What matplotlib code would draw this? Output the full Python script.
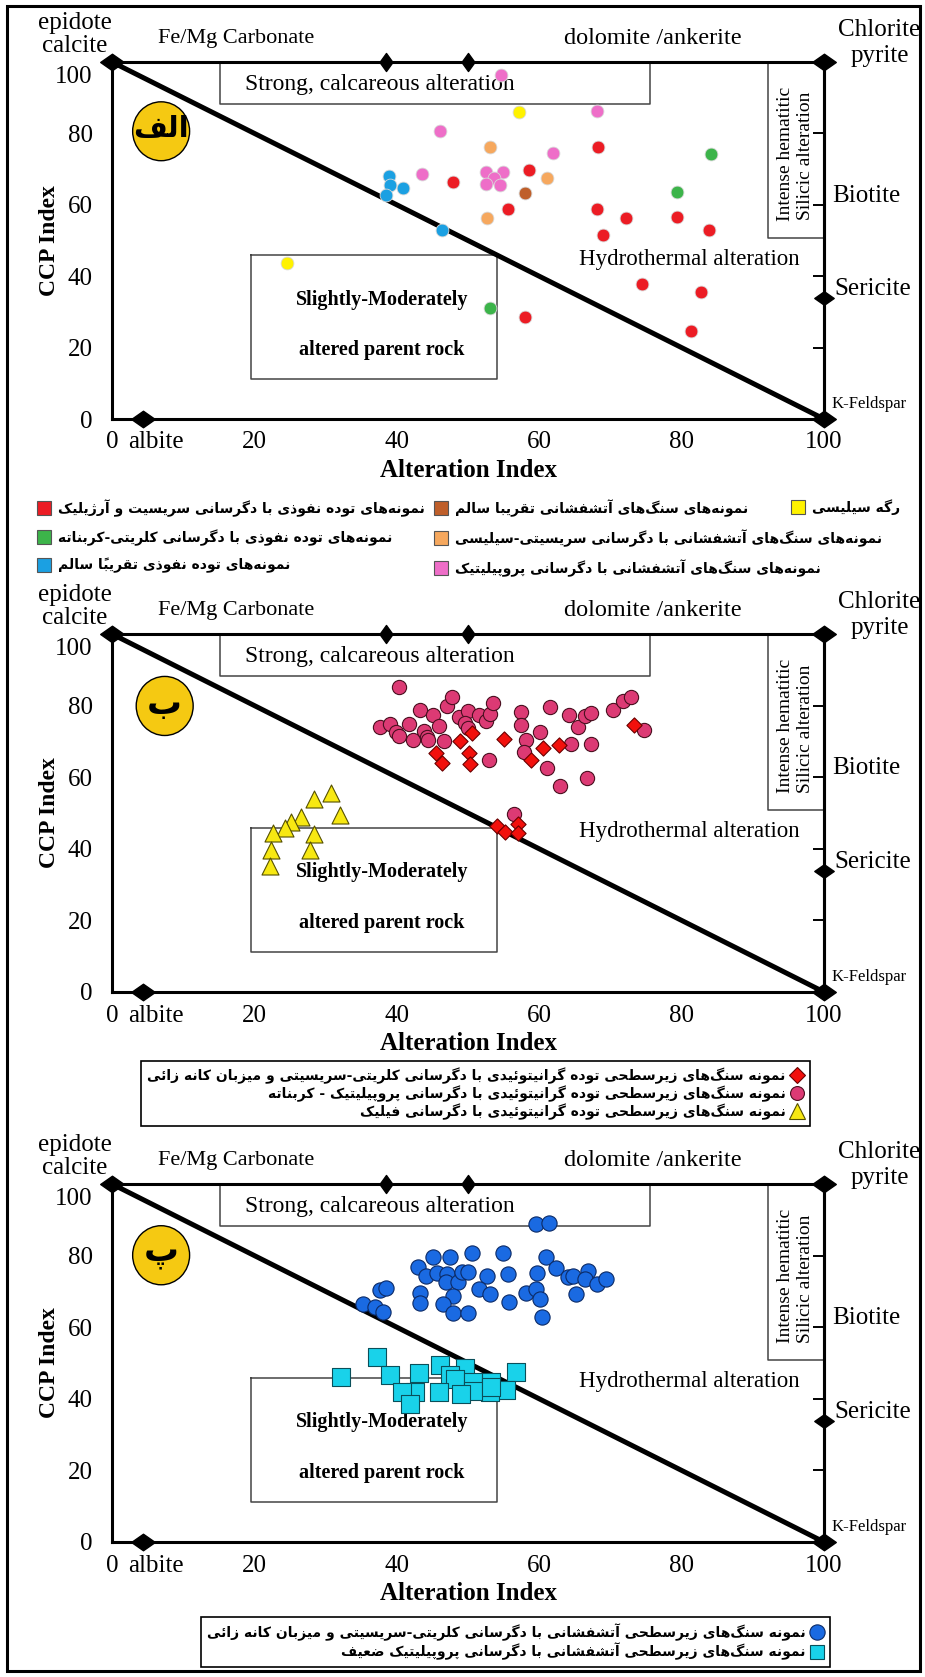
import matplotlib
matplotlib.use("Agg")
import matplotlib.pyplot as plt
import matplotlib.transforms as mtrans
from matplotlib.patches import Ellipse, Rectangle
from matplotlib.lines import Line2D
from matplotlib.path import Path
from matplotlib.font_manager import FontProperties

# ---------------- data ----------------
# Panel 1 (الف)
P1_RED_X = [68.3, 47.9, 58.5, 55.6, 68.1, 72.2, 79.3, 83.8, 69.0, 74.5, 82.7, 58.0, 81.3]
P1_RED_Y = [76.3, 66.4, 69.8, 58.9, 58.9, 56.4, 56.6, 53.0, 51.6, 37.8, 35.7, 28.5, 24.7]
P1_GREEN_X = [84.1, 79.4, 53.1]
P1_GREEN_Y = [74.3, 63.5, 31.1]
P1_BLUE_X = [38.9, 39.0, 40.9, 38.5, 46.3]
P1_BLUE_Y = [68.1, 65.5, 64.8, 62.8, 53.0]
P1_BROWN_X = [58.0]
P1_BROWN_Y = [63.3]
P1_ORANGE_X = [53.1, 61.1, 52.6]
P1_ORANGE_Y = [76.1, 67.5, 56.3]
P1_PINK_X = [54.7, 68.1, 46.0, 62.0, 43.6, 52.5, 54.9, 53.6, 52.5, 54.5]
P1_PINK_Y = [96.4, 86.2, 80.6, 74.5, 68.5, 69.1, 69.3, 67.5, 65.9, 65.5]
P1_YELLOW_X = [57.2, 24.6]
P1_YELLOW_Y = [85.9, 43.7]

# Panel 2 (ب)
P2_CIRC_X = [40.3, 37.6, 39.0, 39.9, 40.3, 41.7, 42.3, 43.2, 43.8, 44.2, 44.4, 45.1, 45.9, 46.6, 47.1,
             47.8, 48.8, 50.0, 49.6, 50.0, 51.5, 52.5, 53.1, 53.5, 52.9, 57.4, 57.4, 58.1, 57.8, 60.1,
             61.5, 61.1, 64.2, 64.4, 65.4, 66.5, 67.3, 67.3, 62.9, 66.7, 70.3, 71.8, 72.9, 74.7, 56.4]
P2_CIRC_Y = [85.2, 74.1, 74.8, 72.5, 71.5, 74.8, 70.3, 78.7, 72.8, 71.1, 70.3, 77.5, 74.4, 70.0, 79.9,
             82.5, 76.9, 78.4, 75.1, 73.8, 77.4, 75.6, 77.7, 80.6, 64.9, 78.2, 74.6, 70.3, 66.9, 72.6,
             79.7, 62.5, 77.4, 69.3, 74.1, 77.2, 77.9, 69.3, 57.5, 59.7, 78.8, 81.4, 82.5, 73.1, 49.7]
P2_DIAM_X = [45.5, 46.4, 48.9, 50.6, 50.2, 50.3, 55.1, 58.8, 60.5, 62.8, 73.3, 54.1, 55.2, 57.0, 57.0]
P2_DIAM_Y = [66.8, 64.1, 70.1, 72.3, 66.8, 63.6, 70.8, 64.9, 68.1, 69.1, 74.5, 46.5, 44.7, 46.9, 44.4]
P2_TRI_X = [30.8, 28.4, 32.0, 26.5, 25.1, 24.3, 22.6, 28.4, 22.4, 27.8, 22.2]
P2_TRI_Y = [55.5, 53.8, 49.4, 48.8, 47.6, 45.9, 44.5, 44.0, 39.6, 39.7, 35.1]

# Panel 3 (پ)
P3_CIRC_X = [59.6, 61.4, 54.9, 50.6, 45.1, 47.5, 60.9, 43.0, 44.1, 45.6, 47.1, 46.9, 48.6, 49.2, 50.0,
             52.6, 55.6, 59.7, 62.4, 64.0, 64.8, 66.9, 66.5, 68.1, 69.4, 51.5, 53.1, 58.1, 59.5, 60.1,
             55.8, 65.2, 43.2, 43.2, 47.9, 46.5, 47.9, 50.0, 60.4, 37.6, 38.5, 35.2, 37.0, 38.0]
P3_CIRC_Y = [88.7, 89.2, 80.6, 80.6, 79.6, 79.7, 79.5, 76.7, 74.3, 75.2, 74.8, 72.6, 72.5, 75.5, 75.5,
             74.3, 74.8, 75.2, 76.4, 74.1, 74.3, 75.8, 73.6, 72.2, 73.5, 70.8, 69.3, 69.6, 70.8, 67.8,
             67.0, 69.3, 69.6, 66.8, 68.7, 66.5, 64.0, 63.9, 62.8, 70.3, 71.0, 66.4, 65.7, 64.3]
P3_SQ_X = [37.2, 32.2, 39.1, 43.1, 46.0, 49.6, 47.5, 48.2, 50.7, 53.3, 56.7, 55.3, 53.1, 50.7, 49.0,
           45.9, 42.6, 40.8, 41.8, 53.3]
P3_SQ_Y = [51.7, 46.1, 46.6, 47.1, 49.4, 48.6, 46.6, 45.4, 44.8, 44.8, 47.4, 42.5, 41.8, 42.3, 41.3,
           41.8, 41.8, 41.8, 38.5, 43.2]

# ticks
TICK_POS = [0, 20, 40, 60, 80, 100]
TICK_LABELS = ["0", "20", "40", "60", "80", "100"]
MINOR_POS = [20, 40, 60, 80]

# legend texts (Persian)
L1_RED = "نمونه‌های توده نفوذی با دگرسانی سریسیت و آرژیلیک"
L1_GREEN = "نمونه‌های توده نفوذی با دگرسانی کلریتی-کربناته"
L1_BLUE = "نمونه‌های توده نفوذی تقریباً سالم"
L1_BROWN = "نمونه‌های سنگ‌های آتشفشانی تقریبا سالم"
L1_ORANGE = "نمونه‌های سنگ‌های آتشفشانی با دگرسانی سریسیتی-سیلیسی"
L1_PINK = "نمونه‌های سنگ‌های آتشفشانی با دگرسانی پروپیلیتیک"
L1_YELLOW = "رگه سیلیسی"
L2_DIAM = "نمونه سنگ‌های زیرسطحی توده گرانیتوئیدی با دگرسانی کلریتی-سریسیتی و میزبان کانه زائی"
L2_CIRC = "نمونه سنگ‌های زیرسطحی توده گرانیتوئیدی با دگرسانی پروپیلیتیک - کربناته"
L2_TRI = "نمونه سنگ‌های زیرسطحی توده گرانیتوئیدی با دگرسانی فیلیک"
L3_CIRC = "نمونه سنگ‌های زیرسطحی آتشفشانی با دگرسانی کلریتی-سریسیتی و میزبان کانه زائی"
L3_SQ = "نمونه سنگ‌های زیرسطحی آتشفشانی با دگرسانی پروپیلیتیک ضعیف"
PANEL_LABELS = ["الف", "ب", "پ"]

# ---------------- Persian shaping (matplotlib has no complex text layout) ----------------
FORMS = {
    'ء': ('\uFE80', None, None, None),
    'آ': ('\uFE81', '\uFE82', None, None),
    'أ': ('\uFE83', '\uFE84', None, None),
    'ؤ': ('\uFE85', '\uFE86', None, None),
    'إ': ('\uFE87', '\uFE88', None, None),
    'ئ': ('\uFE89', '\uFE8A', '\uFE8B', '\uFE8C'),
    'ا': ('\uFE8D', '\uFE8E', None, None),
    'ب': ('\uFE8F', '\uFE90', '\uFE91', '\uFE92'),
    'ة': ('\uFE93', '\uFE94', None, None),
    'ت': ('\uFE95', '\uFE96', '\uFE97', '\uFE98'),
    'ث': ('\uFE99', '\uFE9A', '\uFE9B', '\uFE9C'),
    'ج': ('\uFE9D', '\uFE9E', '\uFE9F', '\uFEA0'),
    'ح': ('\uFEA1', '\uFEA2', '\uFEA3', '\uFEA4'),
    'خ': ('\uFEA5', '\uFEA6', '\uFEA7', '\uFEA8'),
    'د': ('\uFEA9', '\uFEAA', None, None),
    'ذ': ('\uFEAB', '\uFEAC', None, None),
    'ر': ('\uFEAD', '\uFEAE', None, None),
    'ز': ('\uFEAF', '\uFEB0', None, None),
    'س': ('\uFEB1', '\uFEB2', '\uFEB3', '\uFEB4'),
    'ش': ('\uFEB5', '\uFEB6', '\uFEB7', '\uFEB8'),
    'ص': ('\uFEB9', '\uFEBA', '\uFEBB', '\uFEBC'),
    'ض': ('\uFEBD', '\uFEBE', '\uFEBF', '\uFEC0'),
    'ط': ('\uFEC1', '\uFEC2', '\uFEC3', '\uFEC4'),
    'ظ': ('\uFEC5', '\uFEC6', '\uFEC7', '\uFEC8'),
    'ع': ('\uFEC9', '\uFECA', '\uFECB', '\uFECC'),
    'غ': ('\uFECD', '\uFECE', '\uFECF', '\uFED0'),
    'ف': ('\uFED1', '\uFED2', '\uFED3', '\uFED4'),
    'ق': ('\uFED5', '\uFED6', '\uFED7', '\uFED8'),
    'ك': ('\uFED9', '\uFEDA', '\uFEDB', '\uFEDC'),
    'ل': ('\uFEDD', '\uFEDE', '\uFEDF', '\uFEE0'),
    'م': ('\uFEE1', '\uFEE2', '\uFEE3', '\uFEE4'),
    'ن': ('\uFEE5', '\uFEE6', '\uFEE7', '\uFEE8'),
    'ه': ('\uFEE9', '\uFEEA', '\uFEEB', '\uFEEC'),
    'و': ('\uFEED', '\uFEEE', None, None),
    'ى': ('\uFEEF', '\uFEF0', None, None),
    'ي': ('\uFEF1', '\uFEF2', '\uFEF3', '\uFEF4'),
    'پ': ('\uFB56', '\uFB57', '\uFB58', '\uFB59'),
    'چ': ('\uFB7A', '\uFB7B', '\uFB7C', '\uFB7D'),
    'ژ': ('\uFB8A', '\uFB8B', None, None),
    'ک': ('\uFB8E', '\uFB8F', '\uFB90', '\uFB91'),
    'گ': ('\uFB92', '\uFB93', '\uFB94', '\uFB95'),
    'ی': ('\uFBFC', '\uFBFD', '\uFBFE', '\uFBFF'),
}
MARKS = set('\u064B\u064C\u064D\u064E\u064F\u0650\u0651\u0652\u0654\u0670')
LAM_ALEF = {'ا': ('\uFEFB', '\uFEFC'), 'آ': ('\uFEF5', '\uFEF6'),
            'أ': ('\uFEF7', '\uFEF8'), 'إ': ('\uFEF9', '\uFEFA')}


def fa(text):
    ch = list(text)
    n = len(ch)

    def prev_letter(i):
        j = i - 1
        while j >= 0 and ch[j] in MARKS:
            j -= 1
        return ch[j] if j >= 0 else None

    def next_letter(i):
        j = i + 1
        while j < n and ch[j] in MARKS:
            j += 1
        return (ch[j], j) if j < n else (None, None)

    out = []
    skip = set()
    for i, c in enumerate(ch):
        if i in skip:
            continue
        if c in MARKS:
            out.append(c)
            continue
        if c == '\u200c':
            continue
        if c not in FORMS:
            out.append(c)
            continue
        p = prev_letter(i)
        join_prev = p is not None and p in FORMS and FORMS[p][2] is not None and FORMS[c][1] is not None
        nx, nj = next_letter(i)
        if c == 'ل' and nx in LAM_ALEF:
            out.append(LAM_ALEF[nx][1 if join_prev else 0])
            skip.add(nj)
            continue
        join_next = FORMS[c][2] is not None and nx is not None and nx in FORMS and FORMS[nx][1] is not None
        iso, fin, ini, med = FORMS[c]
        if join_prev and join_next:
            out.append(med)
        elif join_prev:
            out.append(fin)
        elif join_next:
            out.append(ini)
        else:
            out.append(iso)
    clusters = []
    for c in out:
        if c in MARKS and clusters:
            clusters[-1] += c
        else:
            clusters.append(c)
    return ''.join(reversed(clusters))


# ---------------- figure ----------------
W, H = 925, 1677
fig = plt.figure(figsize=(W / 100, H / 100), dpi=100)
fig.patch.set_facecolor('white')

SERIF = 'Liberation Serif'
FA_FONT = 'DejaVu Sans'
LEFT, RIGHT = 112, 824

WIDE_D = Path([(-1, 0), (0, 0.7), (1, 0), (0, -0.7), (-1, 0)],
              [Path.MOVETO, Path.LINETO, Path.LINETO, Path.LINETO, Path.CLOSEPOLY])
TALL_D = Path([(0, 1), (0.72, 0), (0, -1), (-0.72, 0), (0, 1)],
              [Path.MOVETO, Path.LINETO, Path.LINETO, Path.LINETO, Path.CLOSEPOLY])


def add_panel(top, bottom):
    return fig.add_axes([LEFT / W, 1 - bottom / H, (RIGHT - LEFT) / W, (bottom - top) / H])


def draw_base(ax, label, lab_xy):
    ax.set_xlim(0, 100)
    ax.set_ylim(0, 100)
    for s in ax.spines.values():
        s.set_linewidth(2.2)
    ax.set_xticks(TICK_POS)
    ax.set_xticklabels(TICK_LABELS, fontfamily=SERIF, fontsize=18)
    ax.set_yticks(TICK_POS)
    ax.set_yticklabels(TICK_LABELS, fontfamily=SERIF, fontsize=18)
    ax.tick_params(axis='x', which='major', length=0, pad=9)
    ax.tick_params(axis='y', which='major', length=0, pad=14)
    ax.set_xticks(MINOR_POS, minor=True)
    ax.set_yticks(MINOR_POS, minor=True)
    ax.tick_params(axis='x', which='minor', direction='in', top=True, bottom=True, length=8, width=1.4)
    ax.tick_params(axis='y', which='minor', direction='out', left=True, right=False, length=7, width=1.4)
    sec = ax.secondary_yaxis('right')
    sec.set_yticks(MINOR_POS)
    sec.tick_params(direction='in', length=8, width=1.4, labelright=False)
    sec.spines['right'].set_linewidth(2.2)
    for lbl in ax.get_yticklabels():
        if lbl.get_text() == '100':
            lbl.set_transform(lbl.get_transform() +
                              mtrans.ScaledTranslation(0, -9 / 72, fig.dpi_scale_trans))

    ax.set_xlabel('Alteration Index', fontfamily=SERIF, fontweight='bold', fontsize=18, labelpad=4)
    ax.set_ylabel('CCP Index', fontfamily=SERIF, fontweight='bold', fontsize=17)
    ax.yaxis.set_label_coords(-(LEFT - 60) / (RIGHT - LEFT), 0.5)
    ax.annotate('albite', xy=(6.2, 0), xycoords=('data', 'axes fraction'), xytext=(0, -9),
                textcoords='offset points', ha='center', va='top', fontfamily=SERIF, fontsize=18)

    # diagonal
    ax.plot([0, 100], [100, 0], color='black', lw=3.6, solid_capstyle='butt', zorder=2)
    # field boxes
    bc = dict(color='#444444', lw=1.1, zorder=1.5)
    ax.plot([15.2, 15.2, 75.5, 75.5], [100, 88.3, 88.3, 100], **bc)
    ax.plot([92.2, 92.2, 100], [100, 50.7, 50.7], **bc)
    ax.plot([19.5, 19.5, 54.1, 54.1, 19.5], [45.8, 11.3, 11.3, 45.8, 45.8], **bc)
    # field texts
    ax.text(37.6, 93.6, 'Strong, calcareous alteration', ha='center', va='center',
            fontfamily=SERIF, fontsize=17)
    ax.text(81.1, 44.8, 'Hydrothermal alteration', ha='center', va='center',
            fontfamily=SERIF, fontsize=16.5)
    ax.text(37.9, 33.4, 'Slightly-Moderately', ha='center', va='center',
            fontfamily=SERIF, fontsize=14.5, fontweight='bold')
    ax.text(37.9, 19.2, 'altered parent rock', ha='center', va='center',
            fontfamily=SERIF, fontsize=14.5, fontweight='bold')
    ax.text(94.6, 74.3, 'Intense hematitic', ha='center', va='center', rotation=90,
            fontfamily=SERIF, fontsize=14)
    ax.text(97.4, 73.6, 'Silicic alteration', ha='center', va='center', rotation=90,
            fontfamily=SERIF, fontsize=14)
    # mineral labels outside frame
    tk = dict(fontfamily=SERIF, clip_on=False)
    ax.text(-5.2, 110.8, 'epidote', ha='center', va='center', fontsize=18, **tk)
    ax.text(-5.2, 104.6, 'calcite', ha='center', va='center', fontsize=18, **tk)
    ax.text(17.5, 106.7, 'Fe/Mg Carbonate', ha='center', va='center', fontsize=16, **tk)
    ax.text(76.0, 106.7, 'dolomite /ankerite', ha='center', va='center', fontsize=17.5, **tk)
    ax.text(107.8, 108.9, 'Chlorite', ha='center', va='center', fontsize=18, **tk)
    ax.text(107.8, 101.6, 'pyrite', ha='center', va='center', fontsize=18, **tk)
    ax.text(101.2, 62.6, 'Biotite', ha='left', va='center', fontsize=18, **tk)
    ax.text(101.4, 36.4, 'Sericite', ha='left', va='center', fontsize=18, **tk)
    ax.text(101.0, 4.2, 'K-Feldspar', ha='left', va='center', fontsize=12, **tk)
    # diamonds on the frame
    dk = dict(color='black', ls='none', clip_on=False, zorder=6)
    ax.plot([0, 100, 100], [100, 100, 0], marker=WIDE_D, ms=17, **dk)
    ax.plot([38.5, 50.0], [100, 100], marker=TALL_D, ms=13, **dk)
    ax.plot([4.3], [0], marker=WIDE_D, ms=17, **dk)
    ax.plot([100], [33.9], marker=WIDE_D, ms=14, **dk)
    # panel label
    ax.add_patch(Ellipse(lab_xy, 8.0, 16.5, facecolor='#f5c912', edgecolor='black', lw=1.0, zorder=4))
    ax.text(lab_xy[0], lab_xy[1] + 0.5, fa(label), ha='center', va='center',
            fontfamily=FA_FONT, fontweight='bold', fontsize=21 if len(label) > 1 else 25, zorder=5)


# ---- Panel 1 ----
ax1 = add_panel(62, 419)
draw_base(ax1, PANEL_LABELS[0], (6.9, 80.6))
p1 = [
    (P1_RED_X, P1_RED_Y, '#ec1c24'),
    (P1_GREEN_X, P1_GREEN_Y, '#3cb44a'),
    (P1_BLUE_X, P1_BLUE_Y, '#1ba0e2'),
    (P1_BROWN_X, P1_BROWN_Y, '#bf5f2a'),
    (P1_ORANGE_X, P1_ORANGE_Y, '#f6a85e'),
    (P1_PINK_X, P1_PINK_Y, '#ee6ec8'),
    (P1_YELLOW_X, P1_YELLOW_Y, '#fff200'),
]
for xs, ys, c in p1:
    ax1.scatter(xs, ys, s=85, color=c, edgecolors='#d8d8d8', linewidths=0.6, zorder=5)

# ---- Panel 2 ----
ax2 = add_panel(634, 992)
draw_base(ax2, PANEL_LABELS[1], (7.4, 79.9))
ax2.scatter(P2_CIRC_X, P2_CIRC_Y, s=105, marker='o', color='#dc3a74', edgecolors='#4a1020',
            linewidths=0.8, zorder=5)
ax2.scatter(P2_DIAM_X, P2_DIAM_Y, s=60, marker='D', color='#f2100c', edgecolors='#6a0000',
            linewidths=0.8, zorder=6)
ax2.scatter(P2_TRI_X, P2_TRI_Y, s=150, marker='^', color='#f7e812', edgecolors='#555000',
            linewidths=0.8, zorder=5)

# ---- Panel 3 ----
ax3 = add_panel(1184, 1542)
draw_base(ax3, PANEL_LABELS[2], (6.9, 80.1))
ax3.scatter(P3_CIRC_X, P3_CIRC_Y, s=120, marker='o', color='#1a6ae2', edgecolors='#0b2a66',
            linewidths=0.8, zorder=5)
ax3.scatter(P3_SQ_X, P3_SQ_Y, s=160, marker='s', color='#19d2ea', edgecolors='#0a4f5a',
            linewidths=0.8, zorder=5)

# ---------------- legends ----------------
L1_FS = 10.0
fp1 = FontProperties(family=FA_FONT, weight='bold', size=L1_FS)


def sq(c):
    return Line2D([], [], marker='s', ls='none', ms=10, mfc=c, mec='#555555', mew=0.8)


def legend_col(items, x_center, y_top):
    fs = L1_FS * 100 / 72
    return fig.legend([sq(c) for c, _ in items], [fa(t) for _, t in items],
                      loc='upper left', bbox_to_anchor=((x_center - 0.5 * fs) / W, 1 - y_top / H),
                      frameon=False, borderpad=0, borderaxespad=0, handlelength=1.0,
                      handletextpad=0.5, labelspacing=0.9, prop=fp1)


legend_col([('#ec1c24', L1_RED), ('#3cb44a', L1_GREEN), ('#1ba0e2', L1_BLUE)], 44, 499)
legend_col([('#bf5f2a', L1_BROWN), ('#f6a85e', L1_ORANGE), ('#ee6ec8', L1_PINK)], 441, 499)
legend_col([('#fff200', L1_YELLOW)], 798, 499)

fp2 = FontProperties(family=FA_FONT, weight='bold', size=10)
h2 = [Line2D([], [], marker='D', ls='none', ms=8, mfc='#f2100c', mec='#6a0000', mew=0.8),
      Line2D([], [], marker='o', ls='none', ms=10, mfc='#dc3a74', mec='#4a1020', mew=0.8),
      Line2D([], [], marker='^', ls='none', ms=11, mfc='#f7e812', mec='#555000', mew=0.8)]
leg2 = fig.legend(h2, [fa(L2_DIAM), fa(L2_CIRC), fa(L2_TRI)], loc='upper right',
                  bbox_to_anchor=(810 / W, 1 - 1061 / H), markerfirst=False, prop=fp2,
                  frameon=True, fancybox=False, edgecolor='black', framealpha=1,
                  borderpad=0.45, borderaxespad=0, handlelength=1.0, handletextpad=0.3,
                  labelspacing=0.12)
leg2.get_frame().set_linewidth(1.2)

h3 = [Line2D([], [], marker='o', ls='none', ms=11, mfc='#1a6ae2', mec='#0b2a66', mew=0.8),
      Line2D([], [], marker='s', ls='none', ms=10, mfc='#19d2ea', mec='#0a4f5a', mew=0.8)]
leg3 = fig.legend(h3, [fa(L3_CIRC), fa(L3_SQ)], loc='upper right',
                  bbox_to_anchor=(830 / W, 1 - 1617 / H), markerfirst=False, prop=fp2,
                  frameon=True, fancybox=False, edgecolor='black', framealpha=1,
                  borderpad=0.45, borderaxespad=0, handlelength=1.0, handletextpad=0.3,
                  labelspacing=0.15)
leg3.get_frame().set_linewidth(1.2)

# outer frame
fig.add_artist(Rectangle((7 / W, 6 / H), (920 - 7) / W, (1671 - 6) / H, transform=fig.transFigure,
                         fill=False, edgecolor='black', lw=2.2))

fig.savefig('out.png', dpi=100, facecolor='white')
